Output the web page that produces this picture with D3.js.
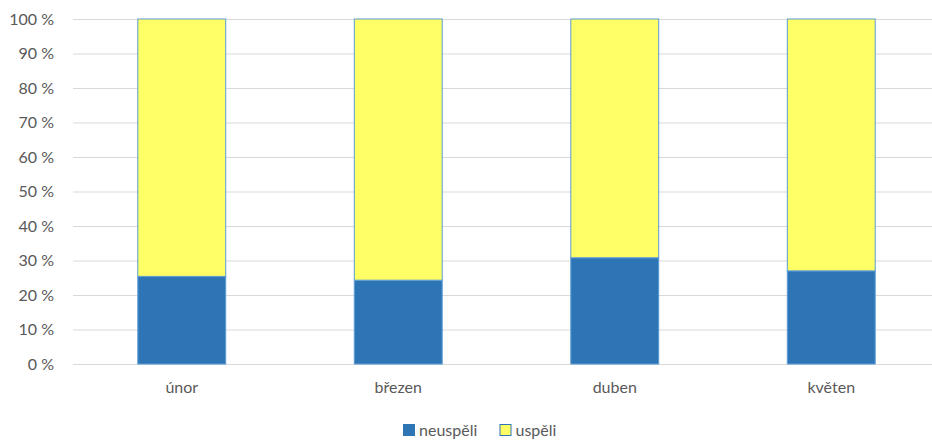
<!DOCTYPE html>
<html>
<head>
<meta charset="utf-8">
<script src="https://cdn.jsdelivr.net/npm/d3@7"></script>
<style>
    body { margin: 0; background: #fff; }
    text { font-family: Lato, "Open Sans", sans-serif; fill: #595959; }
</style>
</head>
<body>
<svg id="chart" width="932" height="440"></svg>
<script>
const months = ['únor', 'březen', 'duben', 'květen'];
const failed = [25.4, 24.3, 30.8, 27.0];
const passed = [74.6, 75.7, 69.2, 73.0];
const seriesNames = ['neuspěli', 'uspěli'];
const seriesColors = ['#2E75B6', '#FFFF66'];
const yTicks = [0, 10, 20, 30, 40, 50, 60, 70, 80, 90, 100];

const svg = d3.select('#chart');

const x = d3.scaleBand().domain(months).range([73.5, 939.5]).paddingInner(0.594).paddingOuter(0.297);
const y = d3.scaleLinear().domain([0, 100]).range([364, 19]);

// gridlines
svg.append('g').selectAll('line').data(yTicks).join('line')
    .attr('x1', 73).attr('x2', 932)
    .attr('y1', d => y(d) + 0.5).attr('y2', d => y(d) + 0.5)
    .attr('stroke', '#d9d9d9').attr('stroke-width', 1);

// y labels
svg.append('g').selectAll('text').data(yTicks).join('text')
    .attr('x', 54).attr('y', d => y(d))
    .attr('dy', '0.35em')
    .attr('text-anchor', 'end')
    .style('font-size', '16px')
    .text(d => d + ' %');

// stacked bars
const rows = months.map((m, i) => ({month: m, neuspěli: failed[i], uspěli: passed[i]}));
const stack = d3.stack().keys(seriesNames)(rows);

const layers = svg.append('g').selectAll('g').data(stack).join('g')
    .attr('fill', (d, i) => seriesColors[i]);

layers.selectAll('rect').data(d => d).join('rect')
    .attr('x', d => x(d.data.month))
    .attr('width', x.bandwidth())
    .attr('y', d => y(d[1]))
    .attr('height', d => y(d[0]) - y(d[1]))
    .attr('stroke', '#5b9bd5')
    .attr('stroke-width', 1);

// x labels
svg.append('g').selectAll('text').data(months).join('text')
    .attr('x', d => x(d) + x.bandwidth() / 2)
    .attr('y', 393)
    .attr('text-anchor', 'middle')
    .style('font-size', '16px')
    .text(d => d);

// legend
const legendItems = [{name: seriesNames[0], x: 403}, {name: seriesNames[1], x: 499.5}];
const lg = svg.append('g').selectAll('g').data(legendItems).join('g')
    .attr('transform', d => 'translate(' + d.x + ',424)');
lg.append('rect')
    .attr('x', 0.5).attr('y', 0.5).attr('width', 11).attr('height', 11)
    .attr('fill', (d, i) => seriesColors[i])
    .attr('stroke', '#2E75B6').attr('stroke-width', 1);
lg.append('text')
    .attr('x', 16).attr('y', 11.5)
    .style('font-size', '16px')
    .text(d => d.name);
</script>
</body>
</html>
